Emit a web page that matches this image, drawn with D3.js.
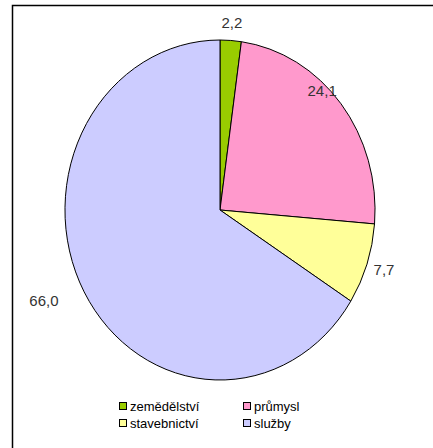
<!DOCTYPE html>
<html>
<head>
<meta charset="utf-8">
<script src="https://cdn.jsdelivr.net/npm/d3@7"></script>
<style>
  body { margin: 0; background: #fff; }
  svg { display: block; }
</style>
</head>
<body>
<script>
// data
var categories = ['zemědělství', 'průmysl', 'stavebnictví', 'služby'];
var shares = [2.2, 24.1, 7.7, 66.0];
var colors = ['#99cc00', '#ff99cc', '#ffff99', '#ccccff'];

var W = 433, H = 448;
var svg = d3.select('body').append('svg').attr('width', W).attr('height', H);

// chart frame (runs off the right and bottom edge)
svg.append('rect')
  .attr('x', 12.5).attr('y', 5.5)
  .attr('width', W).attr('height', H)
  .attr('fill', '#fff').attr('stroke', '#000').attr('stroke-width', 1.5);

// pie is slightly squashed like the excel original
var cx = 220, cy = 210, rx = 155, ry = 170;

var pie = d3.pie().sort(null).value(function(d){ return d; });
var arcs = pie(shares);
var arc = d3.arc().innerRadius(0).outerRadius(1);

var g = svg.append('g')
  .attr('transform', 'translate(' + cx + ',' + cy + ') scale(' + rx + ',' + ry + ')');

g.selectAll('path').data(arcs).enter().append('path')
  .attr('d', arc)
  .attr('fill', function(d, i){ return colors[i]; })
  .attr('stroke', '#000')
  .attr('stroke-width', 1)
  .attr('vector-effect', 'non-scaling-stroke');

// labels: outside the edge, the big pink one sits just inside
var fmt = function(v){ return v.toFixed(1).replace('.', ','); };
var labelPos = function(d, i) {
  var a = (d.startAngle + d.endAngle) / 2;
  var k = 18;
  if (i === 1) { a -= 0.14; k = -6; }
  if (i === 3) { a += 0.058; k = 40; }
  return [cx + (rx + k) * Math.sin(a), cy - (ry + k) * Math.cos(a)];
};

svg.selectAll('text.lbl').data(arcs).enter().append('text')
  .attr('class', 'lbl')
  .attr('x', function(d, i){ return labelPos(d, i)[0]; })
  .attr('y', function(d, i){ return labelPos(d, i)[1]; })
  .attr('dy', '0.35em')
  .attr('text-anchor', 'middle')
  .attr('font-family', 'Liberation Sans, Arial, sans-serif')
  .attr('font-size', 15)
  .attr('fill', '#333')
  .text(function(d){ return fmt(d.data); });

// legend, two columns
var legend = svg.append('g').attr('transform', 'translate(119,402)');
var item = legend.selectAll('g').data(categories).enter().append('g')
  .attr('transform', function(d, i){ return 'translate(' + (i % 2) * 124 + ',' + Math.floor(i / 2) * 17 + ')'; });

item.append('rect')
  .attr('x', 0.5).attr('y', 0.5)
  .attr('width', 7).attr('height', 7)
  .attr('fill', function(d, i){ return colors[i]; })
  .attr('stroke', '#000').attr('stroke-width', 1);

item.append('text')
  .attr('x', 11).attr('y', 4)
  .attr('dy', '0.35em')
  .attr('font-family', 'Liberation Sans, Arial, sans-serif')
  .attr('font-size', 13)
  .attr('fill', '#000')
  .text(function(d){ return d; });
</script>
</body>
</html>
